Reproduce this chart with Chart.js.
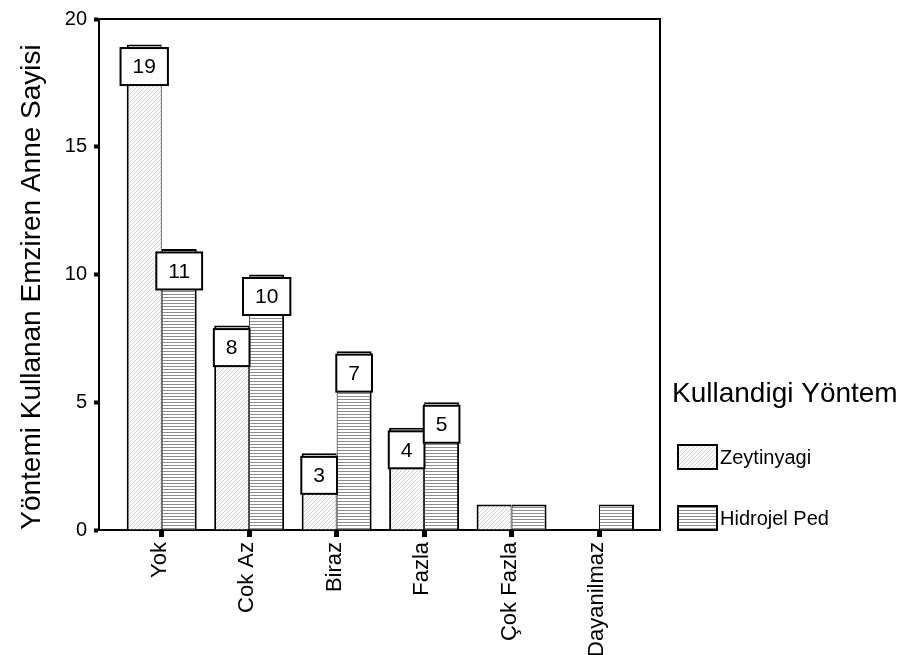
<!DOCTYPE html>
<html>
<head>
<meta charset="utf-8">
<script src="https://cdn.jsdelivr.net/npm/chart.js@4/dist/chart.umd.min.js"></script>
<style>
  html, body { margin: 0; padding: 0; background: #fff; }
  canvas { display: block; }
</style>
</head>
<body>
<canvas id="c" width="905" height="655"></canvas>
<script>
// Pain level categories and counts of breastfeeding mothers per method
const categories = ['Yok', 'Cok Az', 'Biraz', 'Fazla', 'Çok Fazla', 'Dayanilmaz'];
const zeytinyagi = [19, 8, 3, 4, 1, null];
const hidrojelPed = [11, 10, 7, 5, 1, 1];
const seriesNames = ['Zeytinyagi', 'Hidrojel Ped'];
const yTicks = [0, 5, 10, 15, 20];
const yTitle = 'Yöntemi Kullanan Emziren Anne Sayisi';
const legendTitle = 'Kullandigi Yöntem';

const FONT = '"Liberation Sans", Arial, sans-serif';

// Light diagonal hatch
function diagonalPattern() {
  const t = document.createElement('canvas');
  t.width = 4; t.height = 4;
  const g = t.getContext('2d');
  g.fillStyle = '#ffffff'; g.fillRect(0, 0, 4, 4);
  g.fillStyle = '#d2d2d2';
  for (let i = 0; i < 4; i++) g.fillRect(3 - i, i, 1, 1);
  return g.createPattern(t, 'repeat');
}
// Horizontal line hatch
function horizontalPattern() {
  const t = document.createElement('canvas');
  t.width = 4; t.height = 3;
  const g = t.getContext('2d');
  g.fillStyle = '#ffffff'; g.fillRect(0, 0, 4, 3);
  g.fillStyle = '#8c8c8c';
  g.fillRect(0, 0, 4, 1);
  return g.createPattern(t, 'repeat');
}

const ctx = document.getElementById('c').getContext('2d');
const fills = [diagonalPattern(), horizontalPattern()];

const toPoints = arr => arr.map((v, i) => ({ x: i, y: v }));

// Frame, value boxes, axis title and legend
const decorations = {
  id: 'decorations',
  afterDatasetsDraw(chart) {
    const c = chart.ctx;
    const a = chart.chartArea;
    c.save();
    // frame top and right
    c.strokeStyle = '#000';
    c.lineWidth = 2;
    c.beginPath();
    c.moveTo(a.left, a.top);
    c.lineTo(a.right, a.top);
    c.lineTo(a.right, a.bottom);
    c.stroke();

    // value boxes on top of bars
    c.font = '21px ' + FONT;
    c.textAlign = 'center';
    c.textBaseline = 'middle';
    chart.data.datasets.forEach((ds, di) => {
      const meta = chart.getDatasetMeta(di);
      meta.data.forEach((bar, i) => {
        const v = ds.data[i].y;
        if (v == null || v < 3) return;
        const p = bar.getProps(['x', 'y', 'width'], true);
        const txt = String(v);
        const tw = c.measureText(txt).width;
        const w = Math.max(p.width, tw + 24);
        const h = 37;
        const top = p.y + 3.5;
        c.fillStyle = '#fff';
        c.fillRect(p.x - w / 2, top, w, h);
        c.lineWidth = 2;
        c.strokeStyle = '#000';
        c.strokeRect(p.x - w / 2, top, w, h);
        c.fillStyle = '#000';
        c.fillText(txt, p.x, top + h / 2 + 1);
      });
    });

    // y axis title
    c.save();
    c.translate(40, 287);
    c.rotate(-Math.PI / 2);
    c.font = '28px ' + FONT;
    c.textAlign = 'center';
    c.textBaseline = 'alphabetic';
    c.fillStyle = '#000';
    c.fillText(yTitle, 0, 0);
    c.restore();

    // legend
    c.fillStyle = '#000';
    c.font = '28px ' + FONT;
    c.textAlign = 'left';
    c.textBaseline = 'alphabetic';
    c.fillText(legendTitle, 672, 402);
    c.font = '20px ' + FONT;
    c.textBaseline = 'middle';
    const rows = [445, 506];
    seriesNames.forEach((name, i) => {
      c.fillStyle = fills[i];
      c.fillRect(678, rows[i], 39, 24);
      c.lineWidth = 2;
      c.strokeStyle = '#000';
      c.strokeRect(678, rows[i], 39, 24);
      c.fillStyle = '#000';
      c.fillText(name, 720, rows[i] + 13);
    });
    c.restore();
  }
};

new Chart(ctx, {
  type: 'bar',
  data: {
    datasets: [
      {
        label: seriesNames[0],
        data: toPoints(zeytinyagi),
        backgroundColor: fills[0],
        borderColor: '#000',
        borderWidth: { top: 2, left: 2, right: 1, bottom: 0 },
        borderSkipped: false
      },
      {
        label: seriesNames[1],
        data: toPoints(hidrojelPed),
        backgroundColor: fills[1],
        borderColor: '#000',
        borderWidth: { top: 2, left: 1, right: 2, bottom: 0 },
        borderSkipped: false
      }
    ]
  },
  options: {
    responsive: false,
    devicePixelRatio: 1,
    animation: false,
    categoryPercentage: 0.8,
    barPercentage: 1.0,
    layout: { padding: { top: 13, right: 245, left: 0, bottom: 0 } },
    plugins: {
      legend: { display: false },
      tooltip: { enabled: false }
    },
    scales: {
      x: {
        type: 'linear',
        offset: false,
        min: -0.717,
        max: 5.697,
        afterBuildTicks: s => { s.ticks = categories.map((_, i) => ({ value: i })); },
        afterFit: s => { s.height = 125; },
        ticks: {
          autoSkip: false,
          minRotation: 90,
          maxRotation: 90,
          padding: 5,
          labelOffset: -2,
          color: '#000',
          font: { family: FONT, size: 22 },
          callback: v => categories[v]
        },
        grid: {
          offset: false,
          drawOnChartArea: false,
          color: '#000',
          tickLength: 7,
          tickWidth: 5
        },
        border: { display: true, color: '#000', width: 2 }
      },
      y: {
        min: 0,
        max: 20,
        afterBuildTicks: s => { s.ticks = yTicks.map(v => ({ value: v })); },
        afterFit: s => { s.width = 99; },
        ticks: {
          padding: 7,
          color: '#000',
          font: { family: FONT, size: 20 }
        },
        grid: {
          drawOnChartArea: false,
          color: '#000',
          tickLength: 5,
          tickWidth: 4
        },
        border: { display: true, color: '#000', width: 2 }
      }
    }
  },
  plugins: [decorations]
});
</script>
</body>
</html>
